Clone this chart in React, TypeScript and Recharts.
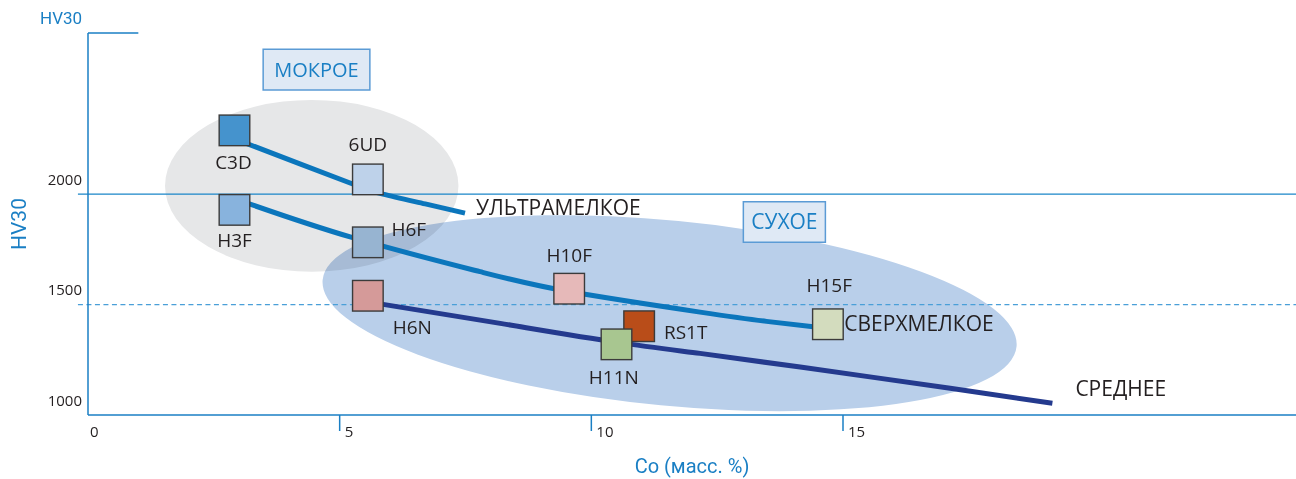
import {
  ComposedChart, Line, Scatter, XAxis, YAxis, ReferenceLine, ReferenceArea, ReferenceDot, Label,
} from "recharts"

// grades: Co content (mass %) vs hardness HV30
const GRADES = ["C3D", "6UD", "H3F", "H6F", "H6N", "H10F", "RS1T", "H11N", "H15F"]
const GRADE_CO = [2.91, 5.56, 2.91, 5.56, 5.56, 9.56, 10.95, 10.5, 14.7]
const GRADE_HV = [2289, 2067, 1929, 1782, 1540, 1572, 1402, 1320, 1411]
const GRADE_COLORS = ["#4593cd", "#bed2ea", "#88b3dd", "#97b4d1", "#d59a99", "#e6b9b9", "#b94d19", "#a8c690", "#d3dcbe"]

// grain-size curves
const ULTRA_CO = [3.0, 4.21, 5.26, 5.86, 6.7, 7.49]
const ULTRA_HV = [2243, 2137, 2046, 2000, 1956, 1914]
const SUPER_CO = [3.02, 5.26, 7.79, 9.56, 12.16, 13.48, 14.45]
const SUPER_HV = [1971, 1803, 1649, 1559, 1466, 1424, 1399]
const MEDIUM_CO = [5.7, 8.19, 10.49, 12.16, 14.15, 17.13, 19.16]
const MEDIUM_HV = [1507, 1415, 1330, 1279, 1217, 1121, 1053]
const CURVE_NAMES = ["УЛЬТРАМЕЛКОЕ", "СВЕРХМЕЛКОЕ", "СРЕДНЕЕ"]

// grinding zones (ellipse extents) and their captions
const WET_CO = [1.53, 7.36]
const WET_HV = [1649, 2427]
const DRY_CO = [4.63, 18.48]
const DRY_HV = [1042, 1880]
const WET_TAG_CO = [3.48, 5.6]
const WET_TAG_HV = [2472, 2656]
const DRY_TAG_CO = [13.02, 14.65]
const DRY_TAG_HV = [1782, 1966]
const ZONE_NAMES = ["МОКРОЕ", "СУХОЕ"]

const X_TICKS = [0, 5, 10, 15]
const Y_TICKS = [1000, 1500, 2000]
const X_DOMAIN = [0, 24]
const Y_DOMAIN = [1000, 2730]

const BLUE = "#1a7fc4"
const INK = "#231f20"
const LABEL_FONT = "'Open Sans', 'Noto Sans', sans-serif"
const TITLE_FONT = "Roboto, sans-serif"

// label placement relative to square centre [dx, dy]
const LABEL_OFFSET: Record<string, [number, number]> = {
  C3D: [-1, 32], "6UD": [0, -35], H3F: [0, 30.5], H6F: [41, -13], H6N: [44.5, 31],
  H10F: [0, -33.7], RS1T: [46.5, 5.7], H11N: [-2.7, 32.4], H15F: [1.3, -39],
}
const CURVE_LABEL_OFFSET: [number, number][] = [[11, -5.5], [29, -3], [23, -14.6]]

const grades = GRADES.map((name, i) => ({ name, co: GRADE_CO[i], hv: GRADE_HV[i], color: GRADE_COLORS[i] }))
const toRows = (xs: number[], ys: number[]) => xs.map((co, i) => ({ co, hv: ys[i] }))
const curves = [
  { rows: toRows(ULTRA_CO, ULTRA_HV), color: "#0b76bc" },
  { rows: toRows(SUPER_CO, SUPER_HV), color: "#0b76bc" },
  { rows: toRows(MEDIUM_CO, MEDIUM_HV), color: "#243a8e" },
]

const SQ = 30.6

function GradeSquare(props: any) {
  const { cx, cy, payload } = props
  const [dx, dy] = LABEL_OFFSET[payload.name] ?? [0, 30]
  return (
    <g>
      <rect x={cx - SQ / 2} y={cy - SQ / 2} width={SQ} height={SQ} fill={payload.color} stroke="#3b3b3b" strokeWidth={1.4} />
      <text x={cx + dx} y={cy + dy + 6.8} textAnchor="middle" fontSize={19} fill={INK} fontFamily={LABEL_FONT}>
        {payload.name}
      </text>
    </g>
  )
}

const ellipse = (fill: string, tilt: number, blend?: string) => (props: any) => {
  const { x, y, width, height } = props
  const cx = x + width / 2
  const cy = y + height / 2
  return (
    <ellipse cx={cx} cy={cy} rx={width / 2} ry={height / 2} fill={fill}
      transform={`rotate(${tilt} ${cx} ${cy})`} style={blend ? { mixBlendMode: blend as any } : undefined} />
  )
}

function XTick({ x, y, payload }: any) {
  return (
    <g>
      {payload.value !== 0 && <line x1={x} x2={x} y1={y} y2={y + 16} stroke={BLUE} strokeWidth={1.5} />}
      <text x={x + (payload.value === 0 ? 2 : 5)} y={y + 22} fontSize={15} fill={INK} fontFamily={LABEL_FONT}>
        {payload.value}
      </text>
    </g>
  )
}

function YTick({ x, y, payload }: any) {
  return (
    <text x={x - 6} y={y - 9.5} textAnchor="end" fontSize={15} fill={INK} fontFamily={LABEL_FONT}>
      {payload.value}
    </text>
  )
}

export default function App() {
  return (
    <div style={{ position: "absolute", left: 0, top: 0, background: "#fff" }}>
      <ComposedChart width={1296} height={479} margin={{ top: 33, right: 0, bottom: 0, left: 0 }}>
        <XAxis type="number" dataKey="co" domain={X_DOMAIN} ticks={X_TICKS} interval={0} height={64}
          axisLine={{ stroke: BLUE, strokeWidth: 1.5 }} tickLine={false} tickSize={0} tickMargin={0} tick={<XTick />}>
          <Label position="insideBottom" offset={6} value="Co (масс. %)" fill={BLUE} fontSize={20} fontFamily={TITLE_FONT} />
        </XAxis>
        <YAxis type="number" dataKey="hv" domain={Y_DOMAIN} ticks={Y_TICKS} interval={0} width={88}
          axisLine={{ stroke: BLUE, strokeWidth: 1.5 }} tickLine={false} tickSize={0} tickMargin={0} tick={<YTick />}>
          <Label content={({ viewBox }: any) => (
            <text x={viewBox.x + 19} y={viewBox.y + viewBox.height / 2} transform={`rotate(-90 ${viewBox.x + 19} ${viewBox.y + viewBox.height / 2})`}
              textAnchor="middle" dominantBaseline="central" fontSize={21} fill={BLUE} fontFamily={TITLE_FONT}>HV30</text>
          )} />
          <Label content={({ viewBox }: any) => (
            <text x={viewBox.x + 40} y={viewBox.y - 9} fontSize={17} fill={BLUE} fontFamily={TITLE_FONT}>HV30</text>
          )} />
        </YAxis>

        <ReferenceArea x1={WET_CO[0]} x2={WET_CO[1]} y1={WET_HV[0]} y2={WET_HV[1]} shape={ellipse("#e6e7e8", 0)} />
        <ReferenceArea x1={DRY_CO[0]} x2={DRY_CO[1]} y1={DRY_HV[0]} y2={DRY_HV[1]} shape={ellipse("#b9cfea", 5.5, "multiply")} />

        <ReferenceArea x1={WET_TAG_CO[0]} x2={WET_TAG_CO[1]} y1={WET_TAG_HV[0]} y2={WET_TAG_HV[1]}
          fill="#dfe9f5" fillOpacity={1} stroke="#5b9bd5" strokeWidth={1.5}
          label={{ value: ZONE_NAMES[0], position: "center", fill: BLUE, fontSize: 20, fontFamily: LABEL_FONT }} />
        <ReferenceArea x1={DRY_TAG_CO[0]} x2={DRY_TAG_CO[1]} y1={DRY_TAG_HV[0]} y2={DRY_TAG_HV[1]}
          fill="#dfe9f5" fillOpacity={1} stroke="#5b9bd5" strokeWidth={1.5}
          label={{ value: ZONE_NAMES[1], position: "center", fill: BLUE, fontSize: 21, fontFamily: LABEL_FONT }} />

        <ReferenceLine segment={[{ x: -0.2, y: 2000 }, { x: X_DOMAIN[1], y: 2000 }]} stroke="#1a86c8" strokeWidth={1.3} ifOverflow="visible" />
        <ReferenceLine segment={[{ x: -0.2, y: 1500 }, { x: X_DOMAIN[1], y: 1500 }]} stroke="#4a9fd8" strokeWidth={1.3} strokeDasharray="5 3.5" ifOverflow="visible" />
        <ReferenceLine segment={[{ x: 0, y: Y_DOMAIN[1] }, { x: 1, y: Y_DOMAIN[1] }]} stroke={BLUE} strokeWidth={1.5} ifOverflow="visible" />

        {curves.map((c, i) => (
          <Line key={i} data={c.rows} dataKey="hv" type="natural" stroke={c.color} strokeWidth={5}
            dot={false} activeDot={false} isAnimationActive={false} />
        ))}
        {curves.map((c, i) => {
          const last = c.rows[c.rows.length - 1]
          const [dx, dy] = CURVE_LABEL_OFFSET[i]
          return (
            <ReferenceDot key={"l" + i} x={last.co} y={last.hv} r={0} stroke="none" fill="none"
              label={{
                content: ({ viewBox }: any) => (
                  <text x={viewBox.x + dx} y={viewBox.y + dy + 7.5} fontSize={21} fill={INK} fontFamily={LABEL_FONT}>
                    {CURVE_NAMES[i]}
                  </text>
                ),
              }} />
          )
        })}

        <Scatter data={grades} dataKey="hv" shape={<GradeSquare />} isAnimationActive={false} />
      </ComposedChart>
    </div>
  )
}
